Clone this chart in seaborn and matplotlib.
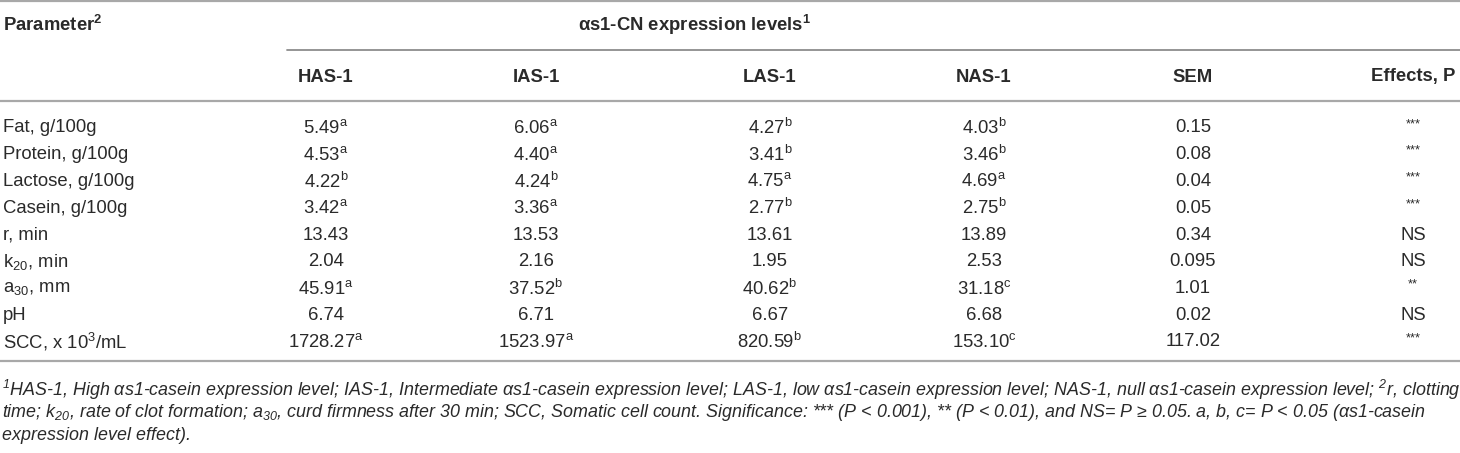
import matplotlib
matplotlib.use("Agg")
import matplotlib.pyplot as plt
import seaborn as sns

# table data
parameters = [
    "Fat, g/100g", "Protein, g/100g", "Lactose, g/100g", "Casein, g/100g",
    "r, min", "k$_{20}$, min", "a$_{30}$, mm", "pH", "SCC, x 10$^{3}$/mL",
]
groups = ["HAS-1", "IAS-1", "LAS-1", "NAS-1"]
has1 = ["5.49", "4.53", "4.22", "3.42", "13.43", "2.04", "45.91", "6.74", "1728.27"]
has1_sup = ["a", "a", "b", "a", "", "", "a", "", "a"]
ias1 = ["6.06", "4.40", "4.24", "3.36", "13.53", "2.16", "37.52", "6.71", "1523.97"]
ias1_sup = ["a", "a", "b", "a", "", "", "b", "", "a"]
las1 = ["4.27", "3.41", "4.75", "2.77", "13.61", "1.95", "40.62", "6.67", "820.59"]
las1_sup = ["b", "b", "a", "b", "", "", "b", "", "b"]
nas1 = ["4.03", "3.46", "4.69", "2.75", "13.89", "2.53", "31.18", "6.68", "153.10"]
nas1_sup = ["b", "b", "a", "b", "", "", "c", "", "c"]
sem = ["0.15", "0.08", "0.04", "0.05", "0.34", "0.095", "1.01", "0.02", "117.02"]
effects = ["***", "***", "***", "***", "NS", "NS", "**", "NS", "***"]

footnote = [
    "$^{1}$HAS-1, High αs1-casein expression level; IAS-1, Intermediate αs1-casein expression level; "
    "LAS-1, low αs1-casein expression level; NAS-1, null αs1-casein expression level; $^{2}$r, clotting",
    "time; k$_{20}$, rate of clot formation; a$_{30}$, curd firmness after 30 min; SCC, Somatic cell count. "
    "Significance: *** (P < 0.001), ** (P < 0.01), and NS= P ≥ 0.05. a, b, c= P < 0.05 (αs1-casein",
    "expression level effect).",
]

sns.set_theme(style="white")
plt.rcParams["font.family"] = ["Liberation Sans", "DejaVu Sans"]
plt.rcParams["mathtext.default"] = "regular"

W, H = 1460, 453
fig = plt.figure(figsize=(W / 100, H / 100), dpi=100)
ax = fig.add_axes([0, 0, 1, 1])
ax.set_xlim(0, W)
ax.set_ylim(H, 0)
ax.axis("off")

FS = 13.3
FS_NOTE = 12.85
TXT = "#2a2a2a"
RULE = "#a8a8a8"

# rules
ax.plot([0, W], [1, 1], color=RULE, lw=1.6)
ax.plot([287, W], [50, 50], color="#8c8c8c", lw=1.3)
ax.plot([0, W], [101, 101], color=RULE, lw=1.6)
ax.plot([0, W], [361, 361], color=RULE, lw=1.6)

# header
ax.text(3, 25, "Parameter$^{2}$", fontsize=FS, fontweight="bold", color=TXT, va="center")
ax.text(695, 25, "αs1-CN expression levels$^{1}$", fontsize=FS, fontweight="bold",
        color=TXT, va="center", ha="center")
col_x = [326, 536, 770, 984, 1193, 1413]
headers = groups + ["SEM", "Effects, P"]
for x, h in zip(col_x, headers):
    ax.text(x, 77, h, fontsize=FS, fontweight="bold", color=TXT, va="center", ha="center")

# body
row_y0, row_dy = 128, 26.75
cols = [(has1, has1_sup), (ias1, ias1_sup), (las1, las1_sup), (nas1, nas1_sup)]
for i, p in enumerate(parameters):
    y = row_y0 + i * row_dy
    ax.text(3, y, p, fontsize=FS, color=TXT, va="center")
    for x, (vals, sups) in zip(col_x, cols):
        s = vals[i] + (f"$^{{{sups[i]}}}$" if sups[i] else "")
        ax.text(x, y, s, fontsize=FS, color=TXT, va="center", ha="center")
    ax.text(col_x[4], y, sem[i], fontsize=FS, color=TXT, va="center", ha="center")
    if "*" in effects[i]:
        ax.text(col_x[5], y - 4, effects[i], fontsize=FS * 0.7, color=TXT, va="center", ha="center")
    else:
        ax.text(col_x[5], y, effects[i], fontsize=FS, color=TXT, va="center", ha="center")

# footnotes
for j, line in enumerate(footnote):
    ax.text(2, 390 + j * 22.5, line, fontsize=FS_NOTE, style="italic", color=TXT, va="center")

fig.savefig("out.png", dpi=100)
